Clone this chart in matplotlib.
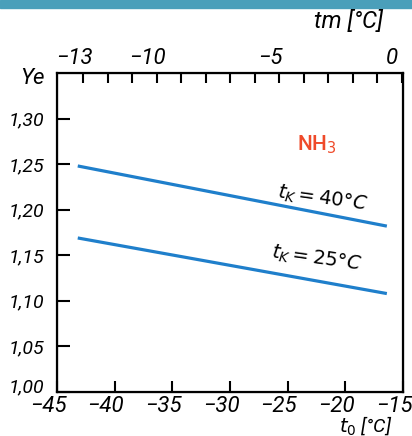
import matplotlib
matplotlib.use('Agg')
import matplotlib.pyplot as plt
from matplotlib.transforms import Affine2D
from matplotlib.patches import Rectangle

# data
t0_ticks = [-45, -40, -35, -30, -25, -20, -15]
t0_labels = ['−45', '−40', '−35', '−30', '−25', '−20', '−15']
tm_ticks = list(range(-13, 1))
tm_labels = ['−13', '', '', '−10', '', '', '', '', '−5', '', '', '', '', '0']
ye_ticks = [1.00, 1.05, 1.10, 1.15, 1.20, 1.25, 1.30]
ye_labels = ['1,00', '1,05', '1,10', '1,15', '1,20', '1,25', '1,30']

t0_line = [-43.2, -16.4]
ye_tk40 = [1.248, 1.182]
ye_tk25 = [1.169, 1.108]

plt.rcParams['font.family'] = ['Roboto', 'DejaVu Sans']
plt.rcParams['mathtext.fontset'] = 'dejavusans'

fig = plt.figure(figsize=(4.12, 4.36), dpi=100)
fig.patches.append(Rectangle((0, 1 - 8/436), 1, 8/436, transform=fig.transFigure,
                             color='#4a9fba', zorder=0))

ax = fig.add_axes([57/412, 44/436, 346/412, 319/436])
blue = '#1f7fcb'
ax.plot(t0_line, ye_tk40, color=blue, lw=2.3, solid_capstyle='butt')
ax.plot(t0_line, ye_tk25, color=blue, lw=2.3, solid_capstyle='butt')

ax.set_xlim(-45, -15)
ax.set_ylim(1.00, 1.35)
ax.set_xticks(t0_ticks)
ax.set_xticklabels(t0_labels, fontsize=16, fontstyle='italic')
ax.set_yticks(ye_ticks)
ax.set_yticklabels(ye_labels, fontsize=14, fontstyle='italic')
ax.tick_params(axis='x', direction='in', length=8, width=1.5, pad=3)
ax.tick_params(axis='y', direction='in', length=9, width=1.5, pad=9)
for s in ax.spines.values():
    s.set_linewidth(1.6)

top = ax.twiny()
top.set_xlim(-14.06, 0.04)
top.set_xticks(tm_ticks)
top.set_xticklabels(tm_labels, fontsize=16, fontstyle='italic')
top.tick_params(axis='x', direction='in', length=7, width=1.5, pad=3)

# numbers centred on the tick, minus sign hanging left
for lab in ax.get_xticklabels() + top.get_xticklabels():
    if lab.get_text().startswith('−'):
        lab.set_transform(lab.get_transform() + Affine2D().translate(-9, 0))
    elif lab.get_text() == '0':
        lab.set_transform(lab.get_transform() + Affine2D().translate(-10, 0))
# the 1,00 label sits above its tick
ylab0 = ax.get_yticklabels()[0]
ylab0.set_transform(ylab0.get_transform() + Affine2D().translate(0, 7))

ax.text(-22.5, 1.271, 'NH$_3$', color='#ef4a2a', fontsize=15, ha='center', va='center',
        fontweight='medium')
ax.text(-22.0, 1.212, '$t_K = 40°C$', fontsize=14, ha='center', va='center', rotation=-8)
ax.text(-22.5, 1.146, '$t_K = 25°C$', fontsize=14, ha='center', va='center', rotation=-8)

fig.text(32/412, 1 - 78/436, 'Ye', fontsize=16, fontstyle='italic', ha='center', va='center')
fig.text(348/412, 1 - 22/436, 'tm [°C]', fontsize=17, fontstyle='italic', ha='center', va='center')
fig.text(366/412, 1 - 426/436, '$t_0$ [°C]', fontsize=14, fontstyle='italic', ha='center', va='center')

fig.savefig('out.png', dpi=100)
